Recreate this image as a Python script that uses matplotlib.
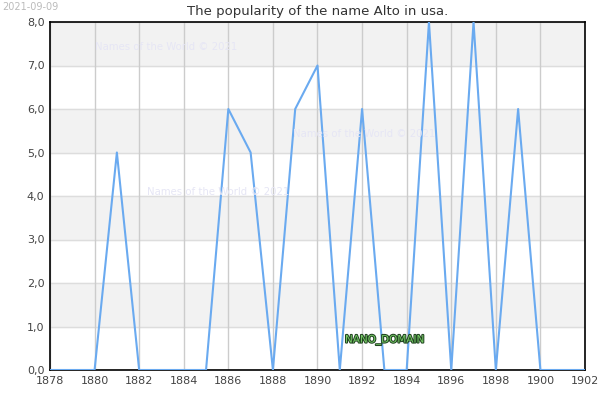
import matplotlib.pyplot as plt
import matplotlib.patheffects as pe

years = list(range(1878, 1903))
counts = [0, 0, 0, 5, 0, 0, 0, 0, 6, 5, 0, 6, 7, 0, 6, 0, 0, 8, 0, 8, 0, 6, 0, 0, 0]
yticks = [0, 1, 2, 3, 4, 5, 6, 7, 8]
xticks = list(range(1878, 1903, 2))

fig = plt.figure(figsize=(6, 4), dpi=100)
ax = fig.add_axes([50 / 600, 30 / 400, 535 / 600, 348 / 400])

# grey bands on every other unit
for y in range(1, 8, 2):
    ax.axhspan(y, y + 1, color='#f2f2f2', zorder=0)
for y in yticks:
    ax.axhline(y, color='#dddddd', lw=1, zorder=1)
for x in xticks:
    ax.axvline(x, color='#cccccc', lw=1, zorder=1)

ax.plot(years, counts, color='#6aaaf0', lw=1.5, zorder=3)

ax.set_xlim(1878, 1902)
ax.set_ylim(0, 8)
ax.set_xticks(xticks)
ax.set_yticks(yticks)
ax.set_yticklabels([f'{v},0' for v in yticks])
ax.tick_params(length=0, labelsize=8, colors='#444444', pad=4)
for s in ax.spines.values():
    s.set_color('black')
    s.set_linewidth(1.2)

ax.set_title('The popularity of the name Alto in usa.', fontsize=9.5, color='#333333', pad=5)
fig.text(0.003, 0.995, '2021-09-09', fontsize=7, color='#bbbbbb', va='top')

wm = dict(fontsize=7.3, color='#e6e6f5', zorder=2)
fig.text(95 / 600, 1 - 47 / 400, 'Names of the World © 2021', va='center', **wm)
fig.text(293 / 600, 1 - 134 / 400, 'Names of the World © 2021', va='center', **wm)
fig.text(147 / 600, 1 - 192 / 400, 'Names of the World © 2021', va='center', **wm)

fig.text(345 / 600, 1 - 340 / 400, 'NANO_DOMAIN', fontsize=7.5, color='#77cc66', va='center',
         path_effects=[pe.withStroke(linewidth=1.5, foreground='#224422')])

fig.savefig('out.png')
